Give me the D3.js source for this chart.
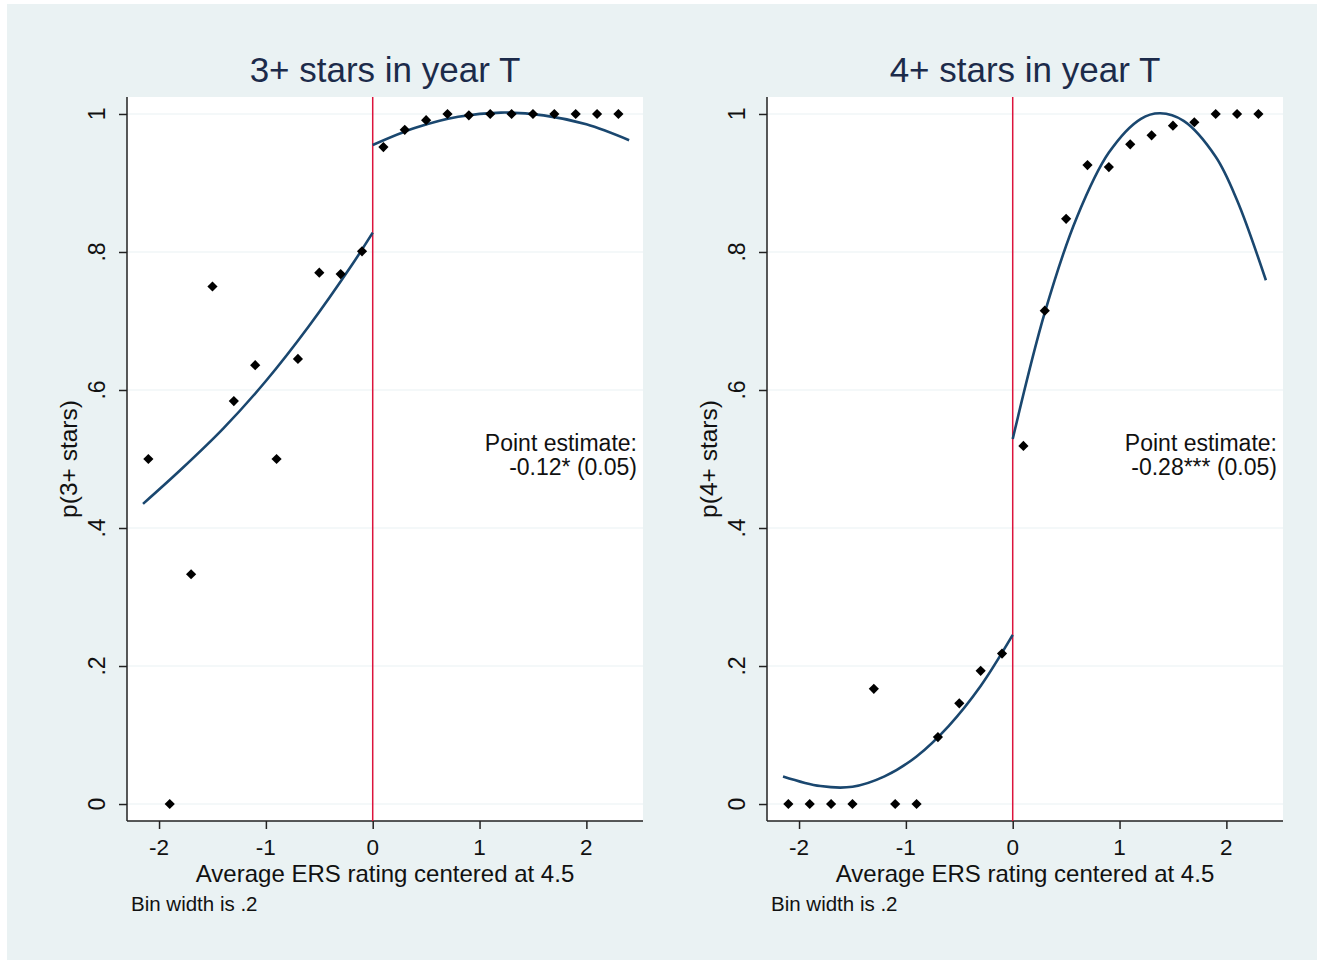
<!DOCTYPE html>
<html>
<head>
<meta charset="utf-8">
<script src="https://cdn.jsdelivr.net/npm/d3@7"></script>
<style>
  body { margin: 0; background: #fff; }
  text { font-family: "Liberation Sans", Arial, sans-serif; }
</style>
</head>
<body>
<div id="stage"></div>
<script>
// bin centres (bin width .2)
const binX = [-2.1, -1.9, -1.7, -1.5, -1.3, -1.1, -0.9, -0.7, -0.5, -0.3, -0.1,
              0.1, 0.3, 0.5, 0.7, 0.9, 1.1, 1.3, 1.5, 1.7, 1.9, 2.1, 2.3];
const share3 = [0.50, 0.00, 0.333, 0.75, 0.584, 0.636, 0.50, 0.645, 0.77, 0.768, 0.801,
                0.952, 0.977, 0.991, 1.0, 0.998, 1, 1, 1, 1, 1, 1, 1];
const share4 = [0, 0, 0, 0, 0.167, 0, 0, 0.097, 0.146, 0.193, 0.218,
                0.519, 0.715, 0.848, 0.926, 0.923, 0.956, 0.969, 0.983, 0.988, 1, 1, 1];

// fitted curves, below and above the cutoff
const fit3LoX = [-2.15, -1.8, -1.4, -1.0, -0.6, -0.2, 0];
const fit3LoY = [0.435, 0.484, 0.544, 0.613, 0.692, 0.780, 0.828];
const fit3HiX = [0, 0.4, 0.8, 1.2, 1.6, 2.0, 2.4];
const fit3HiY = [0.955, 0.980, 0.996, 1.002, 0.998, 0.985, 0.962];
const fit4LoX = [-2.15, -1.8, -1.5, -1.2, -0.9, -0.6, -0.3, 0];
const fit4LoY = [0.04, 0.026, 0.025, 0.040, 0.069, 0.113, 0.171, 0.245];
const fit4HiX = [0, 0.3, 0.6, 0.9, 1.2, 1.38, 1.6, 1.9, 2.1, 2.37];
const fit4HiY = [0.529, 0.712, 0.850, 0.944, 0.993, 1.001, 0.990, 0.938, 0.875, 0.759];

const xTicks = [-2, -1, 0, 1, 2];
const yTicks = [0, 0.2, 0.4, 0.6, 0.8, 1];
const yTickLabels = ['0', '.2', '.4', '.6', '.8', '1'];

const panels = [
    {title: '3+ stars in year T', ytitle: 'p(3+ stars)', y: share3,
     lo: [fit3LoX, fit3LoY], hi: [fit3HiX, fit3HiY], est: '-0.12* (0.05)', left: 127},
    {title: '4+ stars in year T', ytitle: 'p(4+ stars)', y: share4,
     lo: [fit4LoX, fit4LoY], hi: [fit4HiX, fit4HiY], est: '-0.28*** (0.05)', left: 767}
];

const width = 1317, height = 962;
const plotW = 516, plotTop = 97, plotBottom = 821;

const svg = d3.select('#stage').append('svg')
    .attr('width', width).attr('height', height);

svg.append('rect').attr('x', 7).attr('y', 4).attr('width', width - 7).attr('height', 956)
    .attr('fill', '#EAF2F3');

panels.forEach(p => {
    const x = d3.scaleLinear().domain([-2.3, 2.53]).range([p.left, p.left + plotW]);
    const y = d3.scaleLinear().domain([-0.0246, 1.0246]).range([plotBottom, plotTop]);
    const g = svg.append('g');

    g.append('rect').attr('x', p.left).attr('y', plotTop)
        .attr('width', plotW).attr('height', plotBottom - plotTop).attr('fill', '#fff');

    // grid
    g.selectAll('.grid').data(yTicks).join('line')
        .attr('x1', p.left).attr('x2', p.left + plotW)
        .attr('y1', d => y(d)).attr('y2', d => y(d))
        .attr('stroke', '#EAF2F3').attr('stroke-width', 1.2);

    // axes
    const yAxis = d3.axisLeft(y).tickValues(yTicks).tickSize(8).tickFormat('');
    const ya = g.append('g').attr('transform', `translate(${p.left},0)`).call(yAxis);
    ya.select('.domain').attr('d', `M0,${plotTop}V${plotBottom}`);
    ya.selectAll('path, line').attr('stroke', '#222').attr('stroke-width', 1.5);

    g.selectAll('.ylab').data(yTicks).join('text')
        .attr('transform', d => `translate(${p.left - 22},${y(d)}) rotate(-90)`)
        .attr('text-anchor', 'middle').attr('font-size', 23).attr('fill', '#111')
        .text((d, i) => yTickLabels[i]);

    const xAxis = d3.axisBottom(x).tickValues(xTicks).tickSize(8).tickFormat('');
    const xa = g.append('g').attr('transform', `translate(0,${plotBottom})`).call(xAxis);
    xa.select('.domain').attr('d', `M${p.left},0H${p.left + plotW}`);
    xa.selectAll('path, line').attr('stroke', '#222').attr('stroke-width', 1.5);

    g.selectAll('.xlab').data(xTicks).join('text')
        .attr('x', d => x(d)).attr('y', 855)
        .attr('text-anchor', 'middle').attr('font-size', 22.5).attr('fill', '#111')
        .text(d => d < 0 ? '-' + Math.abs(d) : d);

    // cutoff
    g.append('line').attr('x1', x(0)).attr('x2', x(0)).attr('y1', plotTop).attr('y2', plotBottom)
        .attr('stroke', '#DC143C').attr('stroke-width', 1.5);

    // fitted lines
    const line = d3.line().x(d => x(d[0])).y(d => y(d[1])).curve(d3.curveCatmullRom);
    [p.lo, p.hi].forEach(f => {
        g.append('path').datum(f[0].map((v, i) => [v, f[1][i]]))
            .attr('d', line).attr('fill', 'none')
            .attr('stroke', '#1A476F').attr('stroke-width', 2.6);
    });

    // binned means
    g.selectAll('.pt').data(binX.map((v, i) => [v, p.y[i]])).join('path')
        .attr('d', d3.symbol(d3.symbolSquare, 52))
        .attr('transform', d => `translate(${x(d[0])},${y(d[1])}) rotate(45)`)
        .attr('fill', '#000');

    // texts
    const cx = p.left + plotW / 2;
    g.append('text').attr('x', cx).attr('y', 82).attr('text-anchor', 'middle')
        .attr('font-size', 35).attr('fill', '#1C2B4A').text(p.title);
    g.append('text').attr('transform', `translate(${p.left - 50},${(plotTop + plotBottom) / 2}) rotate(-90)`)
        .attr('text-anchor', 'middle').attr('font-size', 24.5).attr('fill', '#111').text(p.ytitle);
    g.append('text').attr('x', cx).attr('y', 882).attr('text-anchor', 'middle')
        .attr('font-size', 24).attr('fill', '#111').text('Average ERS rating centered at 4.5');
    g.append('text').attr('x', p.left + 4).attr('y', 911)
        .attr('font-size', 20.5).attr('fill', '#111').text('Bin width is .2');
    g.append('text').attr('x', p.left + plotW - 6).attr('y', 451).attr('text-anchor', 'end')
        .attr('font-size', 23).attr('fill', '#111').text('Point estimate:');
    g.append('text').attr('x', p.left + plotW - 6).attr('y', 475).attr('text-anchor', 'end')
        .attr('font-size', 23).attr('fill', '#111').text(p.est);
});
</script>
</body>
</html>
